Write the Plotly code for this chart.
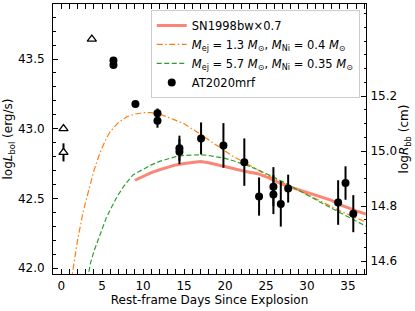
import plotly.graph_objects as go

# AT2020mrf bolometric luminosity (filled points)
obs_t = [6.38, 6.38, 9.06, 11.75, 11.75, 14.43, 14.43, 17.07, 19.8, 22.35,
         24.15, 25.9, 25.9, 26.8, 27.7, 33.8, 34.7, 35.65]
obs_L = [43.49, 43.457, 43.177, 43.11, 43.057, 42.86, 42.835, 42.93, 42.88, 42.76,
         42.513, 42.584, 42.527, 42.46, 42.57, 42.47, 42.61, 42.39]
obs_err = [0.01, 0.01, 0.015, 0.035, 0.05, 0.09, 0.09, 0.115, 0.16, 0.17,
           0.137, 0.14, 0.14, 0.163, 0.1, 0.16, 0.12, 0.133]

# open triangles
tri_t = [0.28, 0.28, 3.74]
tri_L = [43.0, 42.83, 43.643]
tri_err = [0.015, 0.065, 0.0]

# SN1998bw x 0.7
sn_t = [9.0, 10, 11, 12, 13, 14, 15, 16, 17, 18, 19, 20, 21, 22, 23, 24, 25, 26,
        27, 28, 29, 30, 31, 32, 33, 34, 35, 36, 37.2]
sn_L = [42.63, 42.66, 42.685, 42.705, 42.725, 42.74, 42.75, 42.76, 42.765, 42.755,
        42.74, 42.727, 42.715, 42.70, 42.688, 42.677, 42.655, 42.628, 42.60, 42.58,
        42.56, 42.54, 42.522, 42.505, 42.485, 42.455, 42.43, 42.41, 42.388]

# Model Mej=1.3, MNi=0.4
m1_t = [1.2, 1.6, 2.0, 2.7, 3.5, 4.0, 4.75, 5.5, 6.0, 7.0, 8.0, 9.0, 10.0, 11.0,
        12.0, 13.0, 14.0, 15.0, 16.0, 17.0, 18.0, 19.0, 20.0, 21.0, 22.0, 23.0,
        24.0, 25.0, 26.0, 27.0, 28.0, 30.0, 32.0, 34.0, 36.0, 37.2]
m1_L = [41.9, 42.06, 42.2, 42.41, 42.6, 42.7, 42.83, 42.93, 42.98, 43.045, 43.085,
        43.105, 43.115, 43.115, 43.105, 43.085, 43.06, 43.035, 43.0, 42.96, 42.92,
        42.88, 42.84, 42.80, 42.77, 42.735, 42.70, 42.67, 42.64, 42.615, 42.585,
        42.53, 42.47, 42.41, 42.36, 42.33]

# Model Mej=5.7, MNi=0.35
m2_t = [3.2, 3.6, 4.0, 4.76, 5.5, 6.0, 6.8, 7.5, 8.0, 8.8, 10.0, 11.0, 12.0, 13.0,
        14.0, 15.0, 16.0, 17.0, 18.0, 19.0, 20.0, 21.0, 22.0, 23.0, 24.0, 25.0,
        26.0, 27.0, 28.0, 30.0, 32.0, 34.0, 36.0, 37.2]
m2_L = [41.92, 42.04, 42.12, 42.25, 42.36, 42.42, 42.51, 42.575, 42.615, 42.67,
        42.71, 42.74, 42.765, 42.785, 42.80, 42.808, 42.812, 42.813, 42.808, 42.80,
        42.787, 42.77, 42.752, 42.73, 42.705, 42.68, 42.65, 42.62, 42.59, 42.525,
        42.46, 42.40, 42.34, 42.30]

x_ticks = [0, 5, 10, 15, 20, 25, 30, 35]
yl_ticks = [42.0, 42.5, 43.0, 43.5]
yr_ticks = [14.6, 14.8, 15.0, 15.2]

FONT = "DejaVu Sans"
FS = 12
fig = go.Figure()

fig.add_trace(go.Scatter(x=sn_t, y=sn_L, mode="lines",
                         line=dict(color="rgba(250,128,114,0.95)", width=3),
                         name="SN1998bw×0.7"))
fig.add_trace(go.Scatter(x=m1_t, y=m1_L, mode="lines",
                         line=dict(color="#ff7f0e", width=1.2,
                                   dash="6px,2.5px,1.5px,2.5px"),
                         name="<i>M</i><sub>ej</sub> = 1.3 <i>M</i><sub>⊙</sub>, <i>M</i><sub>Ni</sub> = 0.4 <i>M</i><sub>⊙</sub>"))
fig.add_trace(go.Scatter(x=m2_t, y=m2_L, mode="lines",
                         line=dict(color="#2ca02c", width=1.2, dash="5px,2.5px"),
                         name="<i>M</i><sub>ej</sub> = 5.7 <i>M</i><sub>⊙</sub>, <i>M</i><sub>Ni</sub> = 0.35 <i>M</i><sub>⊙</sub>"))
fig.add_trace(go.Scatter(x=obs_t, y=obs_L, mode="markers",
                         marker=dict(color="black", size=8, symbol="circle"),
                         error_y=dict(type="data", array=obs_err, color="black",
                                      thickness=2, width=0),
                         name="AT2020mrf"))
fig.add_trace(go.Scatter(x=tri_t, y=tri_L, mode="markers",
                         marker=dict(color="white", size=8, symbol="triangle-up",
                                     line=dict(color="black", width=1.3)),
                         error_y=dict(type="data", array=tri_err, color="black",
                                      thickness=2, width=0),
                         showlegend=False))
# empty trace to bind the right axis
fig.add_trace(go.Scatter(x=[None], y=[None], yaxis="y2", showlegend=False,
                         hoverinfo="skip"))

tickfont = dict(family=FONT, size=FS, color="black")
fig.update_layout(
    width=415, height=311,
    margin=dict(l=53, r=49, t=4, b=37, autoexpand=False),
    paper_bgcolor="white", plot_bgcolor="white",
    font=dict(family=FONT, size=FS, color="black"),
    showlegend=True,
    legend=dict(x=0.98, y=0.978, xanchor="right", yanchor="top",
                bgcolor="rgba(255,255,255,0.85)", bordercolor="#cccccc",
                borderwidth=1, font=dict(family=FONT, size=11.5),
                tracegroupgap=0, itemwidth=30),
    xaxis=dict(range=[-1, 37.2], tickvals=x_ticks, ticks="inside", ticklen=5,
               tickcolor="black", showline=True, linecolor="black", linewidth=1,
               mirror="allticks", showgrid=False, zeroline=False, tickfont=tickfont,
               ticklabelstandoff=1, automargin=False,
               minor=dict(dtick=1, ticks="inside", ticklen=2.5, tickcolor="black",
                          showgrid=False),
               title=dict(text="Rest-frame Days Since Explosion", standoff=2,
                          font=dict(family=FONT, size=FS))),
    yaxis=dict(range=[41.957, 43.895], tickvals=yl_ticks,
               ticktext=["42.0", "42.5", "43.0", "43.5"],
               ticks="inside", ticklen=5, tickcolor="black",
               showline=True, linecolor="black", linewidth=1, mirror=False,
               showgrid=False, zeroline=False, tickfont=tickfont,
               ticklabelstandoff=5, automargin=False,
               minor=dict(dtick=0.1, tick0=42.0, ticks="inside", ticklen=2.5,
                          tickcolor="black", showgrid=False),
               title=dict(text="log<i>L</i><sub>bol</sub> (erg/s)", standoff=2,
                          font=dict(family=FONT, size=FS))),
    yaxis2=dict(range=[14.553, 15.535], tickvals=yr_ticks,
                ticktext=["14.6", "14.8", "15.0", "15.2"],
                overlaying="y", side="right", anchor="x",
                ticks="inside", ticklen=5, tickcolor="black",
                showline=True, linecolor="black", linewidth=1,
                showgrid=False, zeroline=False, tickfont=tickfont,
                ticklabelstandoff=1, automargin=False,
                minor=dict(dtick=0.05, tick0=14.6, ticks="inside", ticklen=2.5,
                           tickcolor="black", showgrid=False),
                title=dict(text="log<i>R</i><sub>bb</sub> (cm)", standoff=2,
                           font=dict(family=FONT, size=FS))),
)

fig.write_html("out.html", config={"displayModeBar": False},
               post_script="document.body.style.margin='0';document.body.style.padding='0';")
